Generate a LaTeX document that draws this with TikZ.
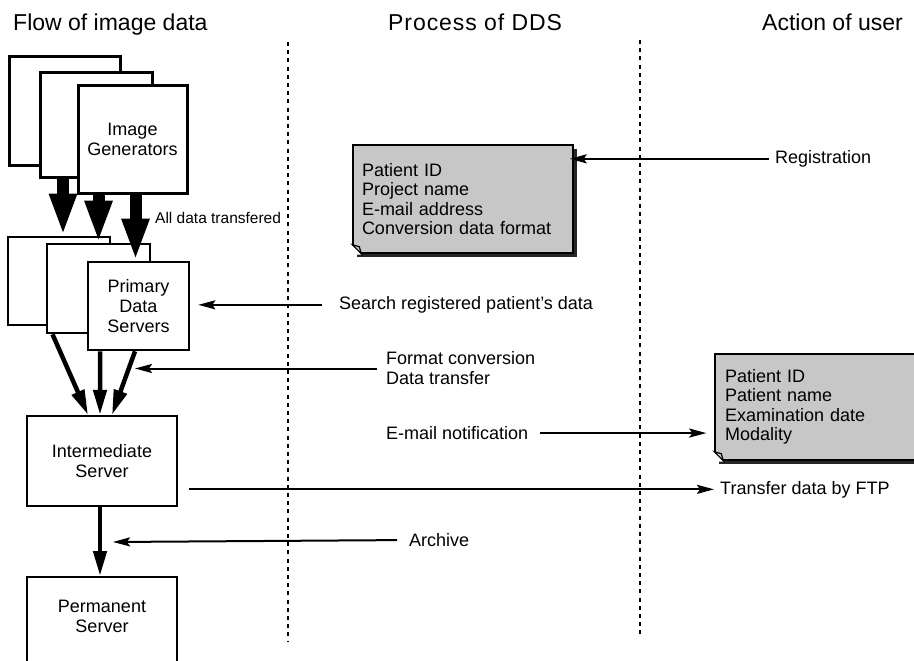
\documentclass[tikz,border=0pt]{standalone}
\usepackage{fontspec}
\setmainfont{Liberation Sans}
\usepackage{tikz}
\usetikzlibrary{arrows.meta, positioning, shadows, calc}

\begin{document}
\begin{tikzpicture}[
  x=1bp, y=-1bp,
  every node/.style={font=\fontsize{18bp}{20bp}\selectfont, inner sep=6bp},
  hdr/.style={font=\fontsize{23bp}{26bp}\selectfont, anchor=base west},
  lbl/.style={anchor=base west},
  gen box/.style={draw, fill=white, line width=3bp, align=center},
  pds box/.style={draw, fill=white, line width=2.6bp, align=center},
  srv box/.style={draw, fill=white, line width=2.2bp, minimum width=150bp, align=center},
  note/.style={draw, line width=1.4bp, fill=black!22, align=left, inner xsep=9bp,
               font=\fontsize{18bp}{19.5bp}\selectfont,
               general shadow={fill=black!85, shadow xshift=4bp, shadow yshift=-4bp}},
  big arr/.style={-{Triangle[length=42bp, width=25bp]}, line width=12bp},
  mid arr/.style={-{Triangle[length=25bp, width=13bp]}, line width=4.5bp},
  thin arr/.style={-{Stealth[length=17bp, width=9bp, inset=3bp]}, line width=2bp},
  sep/.style={line width=2.4bp, dash pattern=on 4bp off 4.2bp}
]
\useasboundingbox (0,0) rectangle (914,661);

%% column headers
\node[hdr] (hdflow) at (7,31) {Flow of image data};
\node[hdr] (hdproc) at (382,31) {\addfontfeature{LetterSpace=4}Process of DDS};
\node[hdr, anchor=base east] (hdact) at (909,31) {Action of user};

%% column separators
\draw[sep] (288,42) -- (288,642);
\draw[sep] (640,40) -- (640,637);

%% image generators (stack)
\node[gen box, minimum width=110bp, minimum height=108bp] (gen1) at (65,111) {};
\node[gen box, minimum width=111bp, minimum height=104bp] (gen2) at (96.5,125) {};
\node[gen box, minimum width=109bp, minimum height=107bp] (gen3) at (132.5,139.5) {Image\\Generators};

%% primary data servers (stack)
\node[pds box, minimum width=102bp, minimum height=88bp] (pds1) at (59,281) {};
\node[pds box, minimum width=103bp, minimum height=89bp] (pds2) at (98.5,288.5) {};
\node[pds box, minimum width=101bp, minimum height=88bp] (pds3) at (138.5,306) {Primary\\Data\\Servers};

%% generators -> primary servers
\draw[big arr] ([xshift=4bp]pds1.north |- gen2.south) -- ([xshift=4bp]pds1.north);
\draw[big arr] (pds2.north |- gen3.south) -- (pds2.north);
\draw[big arr] ([xshift=-3bp]pds3.north |- gen3.south) -- ([xshift=-3bp]pds3.north);
\node[lbl, font=\fontsize{15.5bp}{18bp}\selectfont] (alltr) at (149,223) {All data transfered};

%% intermediate and permanent servers
\node[srv box, minimum height=90bp] (inter) at (102,461) {Intermediate\\Server};
\node[srv box, minimum height=150bp, anchor=north] (perm) at (102,576) {};
\node[align=center] (permtxt) at (102,616) {Permanent\\Server};

\draw[mid arr] ([xshift=-46bp]pds2.south) -- ([xshift=-14bp]inter.north);
\draw[mid arr] ([xshift=-38.5bp]pds3.south) -- ([xshift=-2bp]inter.north);
\draw[mid arr] ([xshift=-3.5bp]pds3.south) -- ([xshift=10bp]inter.north);
\draw[mid arr] ([xshift=-2bp]inter.south) -- ([xshift=-2bp]perm.north);

%% notes
\node[note, text width=202bp, minimum height=108bp] (regnote) at (463,199)
  {Patient ID\\Project name\\E-mail address\\Conversion data format};
\node[note, text width=200bp, inner xsep=10bp, minimum height=106bp] (mailnote) at (825,407)
  {Patient ID\\Patient name\\Examination date\\Modality};
\foreach \n in {regnote, mailnote} {
  \fill[white] ($(\n.south west)+(-1,1)$) -- ($(\n.south west)+(-1,-9)$) -- ($(\n.south west)+(9,1)$) -- cycle;
  \filldraw[fill=black!22, line width=1.2bp] ($(\n.south west)+(0,-9)$) -- ($(\n.south west)+(9,0)$)
    -- ($(\n.south west)+(7,-7)$) -- cycle;
}

%% process / user labels
\node[lbl] (regist) at (769,163.5) {Registration};
\node[lbl] (search) at (333,309.5) {Search registered patient's data};
\node[align=left, anchor=west] (convert) at (380,368.5) {Format conversion\\Data transfer};
\node[lbl] (notify) at (380,439.5) {E-mail notification};
\node[lbl] (ftp) at (714,494) {Transfer data by FTP};
\node[lbl] (archive) at (403,546.5) {Archive};

\coordinate (convtip) at (135,368.5);
\coordinate (archtip) at (113,542);

%% action arrows
\draw[thin arr, shorten >=-4bp] (regist.west) -- (regist.west -| regnote.east);
\draw[thin arr, shorten <=11bp, shorten >=8bp] (search.west) -- (search.west -| pds3.east);
\draw[thin arr, shorten <=3bp] (convert.west) -- (convtip);
\draw[thin arr, shorten <=6bp, shorten >=8bp] (notify.east) -- (notify.east -| mailnote.west);
\draw[thin arr, shorten <=11bp] (ftp.west -| inter.east) -- (ftp.west);
\draw[thin arr, shorten <=6bp] (archive.west) -- (archtip);
\end{tikzpicture}
\end{document}
